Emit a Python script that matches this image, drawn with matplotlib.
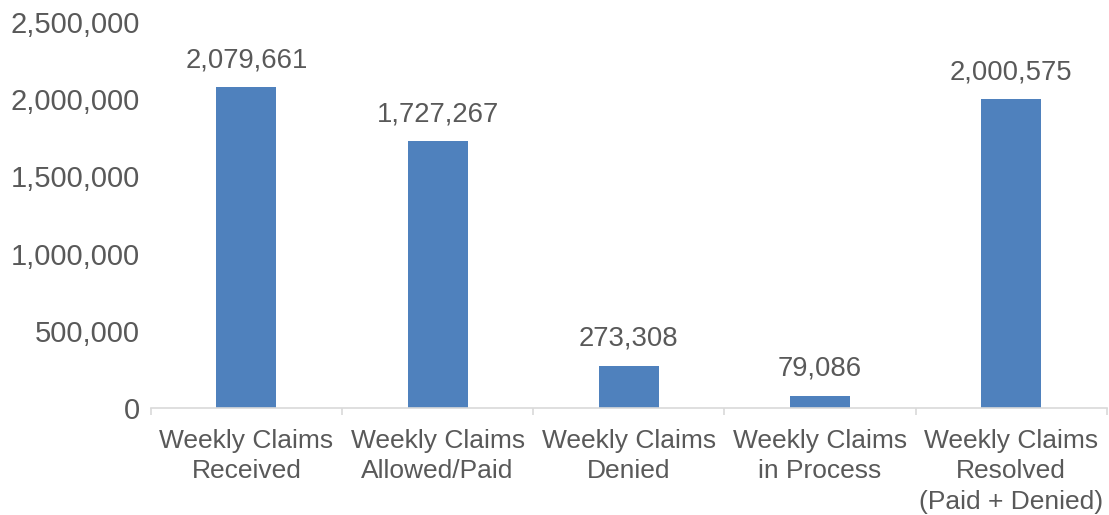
import matplotlib
matplotlib.use("Agg")
import matplotlib.pyplot as plt
from matplotlib.ticker import FuncFormatter, FixedLocator

categories = ["Weekly Claims\nReceived", "Weekly Claims\nAllowed/Paid", "Weekly Claims\nDenied",
              "Weekly Claims\nin Process", "Weekly Claims\nResolved\n(Paid + Denied)"]
values = [2079661, 1727267, 273308, 79086, 2000575]
yticks = [0, 500000, 1000000, 1500000, 2000000, 2500000]

plt.rcParams['font.family'] = ['Liberation Sans', 'DejaVu Sans']
txt = '#595959'
fs = 19

fig = plt.figure(figsize=(11.09, 5.15), dpi=100)
ax = fig.add_axes([0.136, 0.208, 0.862, 0.749])
x = list(range(len(values)))
bars = ax.bar(x, values, width=0.314, color='#4F81BD', zorder=2)
for xi, v in zip(x, values):
    ax.annotate(f"{v:,}", (xi, v), xytext=(0, 10), textcoords='offset points',
                ha='center', va='bottom', fontsize=19.8, color=txt)

ax.set_xlim(-0.5, len(values) - 0.5)
ax.set_ylim(0, 2500000)
ax.set_yticks(yticks)
ax.yaxis.set_major_formatter(FuncFormatter(lambda v, p: f"{int(v):,}"))
ax.set_xticks(x)
ax.set_xticklabels(categories, fontsize=fs, color=txt, linespacing=1.32)
ax.xaxis.set_minor_locator(FixedLocator([i - 0.5 for i in range(len(values) + 1)]))
ax.tick_params(axis='x', which='major', length=0, pad=15.5)
ax.tick_params(axis='x', which='minor', length=5, width=1.2, color='#D9D9D9')
ax.tick_params(axis='y', length=0, pad=8, labelsize=21, labelcolor=txt)
for s in ['top', 'right', 'left']:
    ax.spines[s].set_visible(False)
ax.spines['bottom'].set_color('#D9D9D9')
ax.spines['bottom'].set_linewidth(1.2)

fig.savefig("out.png", dpi=100)
